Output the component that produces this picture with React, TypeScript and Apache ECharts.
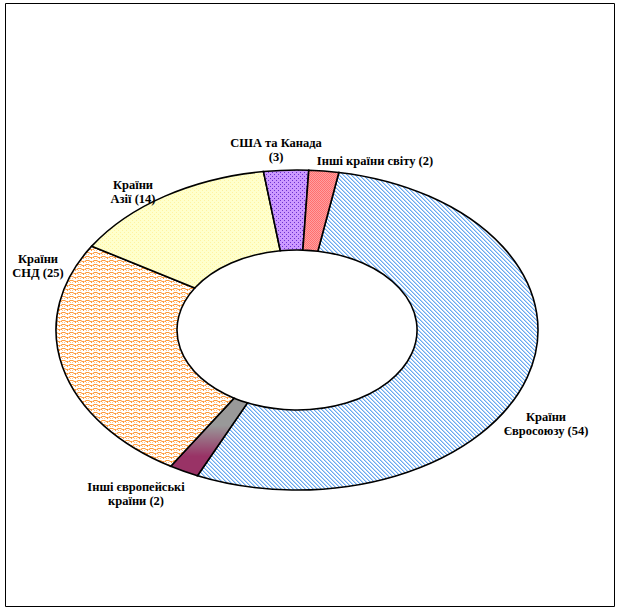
import React, { useEffect, useRef } from "react";
import * as echarts from "echarts";

// ---- data ----
const categories = [
  "Країни\nЄвросоюзу",
  "Інші європейські\nкраїни",
  "Країни\nСНД",
  "Країни\nАзії",
  "США та Канада\n",
  "Інші країни світу",
];
const values = [54, 2, 25, 14, 3, 2];

// ---- layout / style (not data) ----
const CX = 297;
const CY = 330;
const RX = 241;
const RY = 160;
const IRX = 120;
const IRY = 80;
const START_DEG = 10; // clockwise from 12 o'clock
const labelAnchors: [number, number][] = [
  [546, 424],
  [136, 494],
  [38, 266],
  [133, 192],
  [276, 150],
  [375, 161],
];

function makeTile(rows: string[], colors: Record<string, string>, bg: string): string {
  const h = rows.length;
  const w = rows[0].length;
  const c = document.createElement("canvas");
  c.width = w;
  c.height = h;
  const ctx = c.getContext("2d")!;
  ctx.fillStyle = bg;
  ctx.fillRect(0, 0, w, h);
  for (let y = 0; y < h; y++) {
    for (let x = 0; x < w; x++) {
      const ch = rows[y][x];
      if (colors[ch]) {
        ctx.fillStyle = colors[ch];
        ctx.fillRect(x, y, 1, 1);
      }
    }
  }
  return c.toDataURL();
}

function buildFills(): any[] {
  const eu = makeTile(["Bb..", ".Bb.", "..Bb", "b..B"], { B: "#6aa8f0", b: "#b5d5f8" }, "#ffffff");
  const cis = makeTile(
    ["OP...POO", ".POOPO..", "P..O..P.", "........"],
    { O: "#ff9a3c", P: "#ffc48c" },
    "#ffffff"
  );
  const asia = makeTile(["y...", "....", "..y.", "...."], { y: "#fff3a0" }, "#ffffcc");
  const usa = makeTile(["d...", "....", "..d.", "...."], { d: "#6a2fd0" }, "#cc99ff");
  const world = makeTile(["ab", "ba"], { a: "#ff6f6f", b: "#ffa0a0" }, "#ff8080");
  const otherEu = new echarts.graphic.LinearGradient(0, 0, 0, 1, [
    { offset: 0, color: "#999999" },
    { offset: 0.35, color: "#999999" },
    { offset: 0.75, color: "#993366" },
    { offset: 1, color: "#993366" },
  ]);
  return [
    { image: eu, repeat: "repeat" },
    otherEu,
    { image: cis, repeat: "repeat" },
    { image: asia, repeat: "repeat" },
    { image: usa, repeat: "repeat" },
    { image: world, repeat: "repeat" },
  ];
}

function pt(rx: number, ry: number, deg: number): string {
  const r = (deg * Math.PI) / 180;
  return `${(CX + rx * Math.sin(r)).toFixed(2)} ${(CY - ry * Math.cos(r)).toFixed(2)}`;
}

export default function App() {
  const ref = useRef<HTMLDivElement>(null);
  useEffect(() => {
    if (!ref.current) return;
    const chart = echarts.init(ref.current, null, { renderer: "svg" });
    const fills = buildFills();
    const total = values.reduce((a, b) => a + b, 0);
    const labelText = (i: number) => {
      const n = categories[i];
      return n.endsWith("\n") ? `${n}(${values[i]})` : `${n} (${values[i]})`;
    };
    chart.setOption({
      animation: false,
      backgroundColor: "#ffffff",
      graphic: [
        {
          type: "rect",
          shape: { x: 5.5, y: 3.5, width: 609, height: 603 },
          style: { fill: "none", stroke: "#000", lineWidth: 1 },
          z: 100,
        },
        ...values.map((_, i) => ({
          type: "text",
          x: labelAnchors[i][0],
          y: labelAnchors[i][1],
          style: {
            text: labelText(i),
            fontFamily: "'Liberation Serif', 'DejaVu Serif', serif",
            fontWeight: "bold",
            fontSize: 12.5,
            fill: "#000",
            align: "center",
            verticalAlign: "middle",
            lineHeight: 13.5,
          },
          z: 100,
        })),
      ],
      series: [
        {
          type: "custom",
          coordinateSystem: "none",
          data: values.map((v, i) => ({ name: categories[i], value: [v] })),
          renderItem: (params: any, api: any) => {
            const i = params.dataIndex;
            let cum = 0;
            for (let k = 0; k < i; k++) cum += values[k];
            const v = api.value(0);
            const a0 = START_DEG + (cum / total) * 360;
            const a1 = a0 + (v / total) * 360;
            const large = a1 - a0 > 180 ? 1 : 0;
            const d =
              `M${pt(RX, RY, a0)} A${RX} ${RY} 0 ${large} 1 ${pt(RX, RY, a1)} ` +
              `L${pt(IRX, IRY, a1)} A${IRX} ${IRY} 0 ${large} 0 ${pt(IRX, IRY, a0)} Z`;
            return {
              type: "path",
              shape: { pathData: d },
              style: { fill: fills[i], stroke: "#000", lineWidth: 1.6 },
            };
          },
        },
      ],
    });
    return () => chart.dispose();
  }, []);
  return (
    <div
      ref={ref}
      style={{ position: "absolute", left: 0, top: 0, width: 621, height: 611 }}
    />
  );
}
